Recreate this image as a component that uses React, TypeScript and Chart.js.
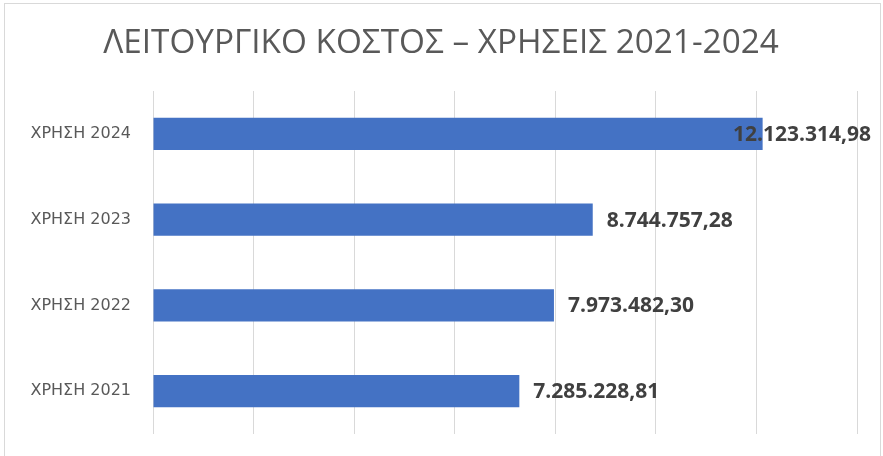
import React, { useEffect, useRef } from "react";
import { Chart, registerables } from "chart.js";

Chart.register(...registerables);

const TITLE = "ΛΕΙΤΟΥΡΓΙΚΟ ΚΟΣΤΟΣ – ΧΡΗΣΕΙΣ 2021-2024";
const categories = ["ΧΡΗΣΗ 2024", "ΧΡΗΣΗ 2023", "ΧΡΗΣΗ 2022", "ΧΡΗΣΗ 2021"];
const costs = [12123314.98, 8744757.28, 7973482.3, 7285228.81];
const axisMax = 14000000;
const axisStep = 2000000;

function formatGreek(v: number): string {
  const fixed = v.toFixed(2);
  const [intPart, dec] = fixed.split(".");
  const withDots = intPart.replace(/\B(?=(\d{3})+(?!\d))/g, ".");
  return withDots + "," + dec;
}

const borderPlugin = {
  id: "outerBorder",
  beforeDraw(chart: any) {
    const ctx = chart.ctx;
    ctx.save();
    ctx.fillStyle = "#ffffff";
    ctx.fillRect(0, 0, chart.width, chart.height);
    ctx.strokeStyle = "#d9d9d9";
    ctx.lineWidth = 1;
    ctx.strokeRect(4.5, 3.5, 876, 470);
    ctx.font = "33.3px 'Open Sans'";
    ctx.fillStyle = "#595959";
    ctx.textAlign = "center";
    ctx.textBaseline = "middle";
    ctx.fillText(TITLE, 441, 44);
    ctx.restore();
  },
};

const labelPlugin = {
  id: "barValueLabels",
  afterDatasetsDraw(chart: any) {
    const ctx = chart.ctx;
    const meta = chart.getDatasetMeta(0);
    ctx.save();
    ctx.font = "bold 21px 'Open Sans'";
    ctx.fillStyle = "#404040";
    ctx.textBaseline = "middle";
    ctx.textAlign = "left";
    meta.data.forEach((bar: any, i: number) => {
      const text = formatGreek(costs[i]);
      const w = ctx.measureText(text).width;
      let x = bar.x + 14;
      const maxRight = 871;
      if (x + w > maxRight) x = maxRight - w;
      ctx.fillText(text, x, bar.y + 1);
    });
    ctx.restore();
  },
};

export default function App() {
  const ref = useRef<HTMLCanvasElement | null>(null);
  useEffect(() => {
    if (!ref.current) return;
    const chart = new Chart(ref.current, {
      type: "bar",
      data: {
        labels: categories,
        datasets: [
          {
            data: costs,
            backgroundColor: "#4472C4",
            borderWidth: 0,
            categoryPercentage: 1,
            barPercentage: 0.375,
          },
        ],
      },
      options: {
        indexAxis: "y",
        animation: false,
        responsive: false,
        maintainAspectRatio: false,
        layout: { padding: { left: 0, right: 26, top: 91, bottom: 22 } },
        plugins: {
          legend: { display: false },
          tooltip: { enabled: false },
          title: { display: false },
        },
        scales: {
          x: {
            min: 0,
            max: axisMax,
            ticks: { display: false, stepSize: axisStep },
            grid: { color: "#d9d9d9", drawTicks: false, lineWidth: 1 },
            border: { display: false },
            afterFit(scale: any) {
              scale.height = 0;
              scale.paddingLeft = 0;
              scale.paddingRight = 0;
            },
          },
          y: {
            ticks: {
              color: "#595959",
              font: { family: "'DejaVu Sans'", size: 16 },
              padding: 22,
            },
            grid: { display: false, drawTicks: false },
            border: { display: false },
            afterFit(scale: any) {
              scale.width = 153;
              scale.paddingTop = 0;
              scale.paddingBottom = 0;
            },
          },
        },
      },
      plugins: [borderPlugin, labelPlugin],
    });
    return () => chart.destroy();
  }, []);
  return (
    <div style={{ position: "absolute", left: 0, top: 0, width: 883, height: 456 }}>
      <canvas ref={ref} width={883} height={456} />
    </div>
  );
}
